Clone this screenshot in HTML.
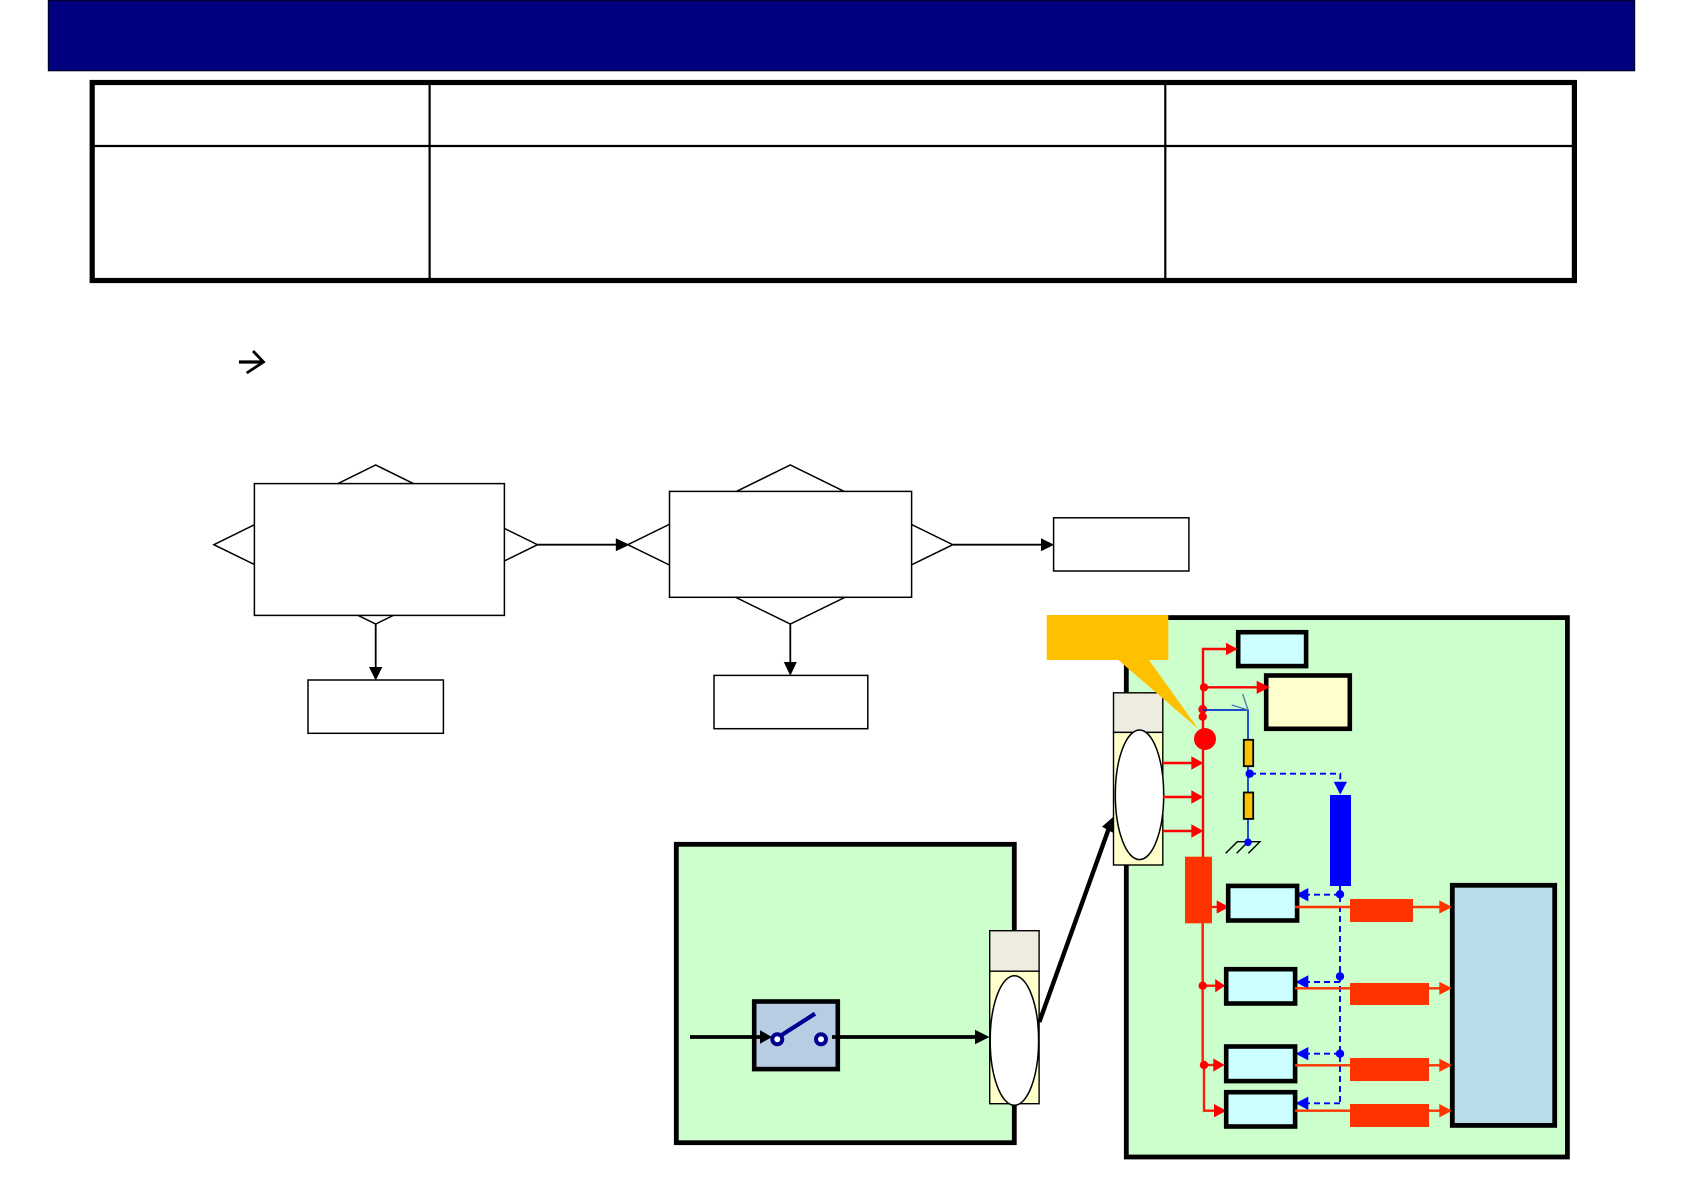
<!DOCTYPE html>
<html>
<head>
<meta charset="utf-8">
<style>
html,body{margin:0;padding:0;background:#fff;width:1684px;height:1191px;overflow:hidden}
svg{display:block}
</style>
</head>
<body>
<svg width="1684" height="1191" viewBox="0 0 1684 1191" xmlns="http://www.w3.org/2000/svg">
<rect width="1684" height="1191" fill="#fff"/>

<!-- banner -->
<rect x="48.5" y="0.6" width="1586" height="70" fill="#000080" stroke="#000030" stroke-width="1.4"/>

<!-- table -->
<rect x="92.2" y="82.5" width="1482.2" height="198" fill="#fff" stroke="#000" stroke-width="5.2"/>
<line x1="92" y1="146" x2="1574" y2="146" stroke="#000" stroke-width="2.2"/>
<line x1="429.6" y1="82" x2="429.6" y2="280" stroke="#000" stroke-width="2.2"/>
<line x1="1165.3" y1="82" x2="1165.3" y2="280" stroke="#000" stroke-width="2.2"/>

<!-- arrow glyph -->
<path d="M239 362H262" stroke="#000" stroke-width="3.2" fill="none"/>
<path d="M253 351L263.5 362L246.7 373" stroke="#000" stroke-width="2.8" fill="none"/>

<!-- flow chart -->
<g fill="#fff" stroke="#000" stroke-width="1.5">
<polygon points="213.9,544.7 375.7,465 537.5,544.7 375.7,624"/>
<rect x="254.4" y="483.6" width="250" height="131.8"/>
<polygon points="627.8,544.7 790.3,465 952.8,544.7 790.3,624"/>
<rect x="669.5" y="491.4" width="242.1" height="105.9"/>
<rect x="1053.6" y="517.8" width="135.3" height="53.2"/>
<rect x="308" y="680" width="135.4" height="53.3"/>
<rect x="714" y="675.4" width="153.8" height="53.3"/>
</g>
<g stroke="#000" stroke-width="1.8" fill="none">
<line x1="537.5" y1="544.7" x2="618" y2="544.7"/>
<line x1="952.8" y1="544.7" x2="1043" y2="544.7"/>
<line x1="375.7" y1="624" x2="375.7" y2="668"/>
<line x1="790.3" y1="624" x2="790.3" y2="663"/>
</g>
<g fill="#000">
<polygon points="615.8,538.2 629.5,544.7 615.8,551.2"/>
<polygon points="1041,538.2 1054,544.7 1041,551.2"/>
<polygon points="369,667 382.4,667 375.7,680.5"/>
<polygon points="783.8,662 796.8,662 790.3,675.8"/>
</g>

<!-- left green panel -->
<rect x="676.3" y="844.3" width="338" height="298.4" fill="#CCFFCC" stroke="#000" stroke-width="4.8"/>
<rect x="754.2" y="1001.5" width="83.6" height="67.6" fill="#B8CCE4" stroke="#000" stroke-width="4.6"/>
<line x1="690" y1="1037" x2="762" y2="1037" stroke="#000" stroke-width="3.8"/>
<polygon points="760,1030.2 772,1037 760,1043.8" fill="#000"/>
<line x1="832" y1="1037" x2="977" y2="1037" stroke="#000" stroke-width="3.8"/>
<polygon points="975,1029.8 989.5,1037 975,1044.2" fill="#000"/>
<circle cx="777.3" cy="1039.3" r="5" fill="#fff" stroke="#000090" stroke-width="4"/>
<circle cx="821" cy="1039.3" r="5" fill="#fff" stroke="#000090" stroke-width="4"/>
<line x1="781.7" y1="1035" x2="815" y2="1013.7" stroke="#000090" stroke-width="4.2"/>

<!-- left connector -->
<rect x="989.7" y="930.7" width="49.4" height="40.5" fill="#EEECE1" stroke="#000" stroke-width="1.4"/>
<rect x="989.7" y="971.2" width="49.4" height="132.5" fill="#FFFFCC" stroke="#000" stroke-width="1.4"/>
<ellipse cx="1014.4" cy="1040.5" rx="24.2" ry="64.8" fill="#fff" stroke="#000" stroke-width="1.5"/>

<!-- right green panel -->
<rect x="1126.3" y="617.6" width="441.1" height="539.4" fill="#CCFFCC" stroke="#000" stroke-width="4.8"/>

<!-- thick link arrow -->
<line x1="1039.3" y1="1022" x2="1109" y2="828" stroke="#000" stroke-width="4.4"/>
<polygon points="1113.4,816.7 1114.4,833.5 1102,826.7" fill="#000"/>

<!-- right connector -->
<rect x="1113.5" y="692.8" width="49.3" height="39.6" fill="#EEECE1" stroke="#000" stroke-width="1.4"/>
<rect x="1113.5" y="732.4" width="49.3" height="132.6" fill="#FFFFCC" stroke="#000" stroke-width="1.4"/>
<ellipse cx="1139.5" cy="794.8" rx="24.2" ry="64.8" fill="#fff" stroke="#000" stroke-width="1.5"/>

<!-- top boxes -->
<rect x="1238.2" y="632.2" width="67.9" height="33.9" fill="#CCFFFF" stroke="#000" stroke-width="4.6"/>
<rect x="1266.2" y="675.5" width="83.6" height="53.3" fill="#FFFFCC" stroke="#000" stroke-width="4.6"/>

<!-- red lines top -->
<g stroke="#FF0000" stroke-width="2.4" fill="none">
<path d="M1203 857V649H1228"/>
<line x1="1204" y1="687.3" x2="1258" y2="687.3"/>
<line x1="1162.7" y1="763" x2="1193" y2="763"/>
<line x1="1163" y1="797" x2="1193" y2="797"/>
<line x1="1162.7" y1="831" x2="1193" y2="831"/>
</g>
<g fill="#FF0000">
<polygon points="1226,642.7 1237.6,649 1226,655.3"/>
<polygon points="1256.7,680.7 1269.6,687.3 1256.7,693.9"/>
<polygon points="1191.3,756.3 1203.4,763 1191.3,769.7"/>
<polygon points="1191.3,790.3 1203.4,797 1191.3,803.7"/>
<polygon points="1191.3,824.3 1203.4,831 1191.3,837.7"/>
<circle cx="1204" cy="687.3" r="4.2"/>
<circle cx="1202.7" cy="709.3" r="4.4"/>
<circle cx="1202.7" cy="716.7" r="4.2"/>
</g>

<!-- callout -->
<polygon points="1046.7,615 1168.3,615 1168.3,660 1149,660 1198.3,729 1118.3,660 1046.7,660" fill="#FFC000"/>
<circle cx="1205" cy="739" r="11" fill="#FF0000"/>

<!-- divider -->
<path d="M1202.7 710H1248V841.7" stroke="#0033CC" stroke-width="1.7" fill="none"/>
<path d="M1231.7 705L1248 710L1242.7 694" stroke="#4A78B0" stroke-width="1.3" fill="none"/>
<rect x="1243.8" y="739.8" width="9.4" height="26.4" fill="#FFC000" stroke="#000" stroke-width="1.8"/>
<rect x="1243.8" y="792.5" width="9.4" height="26.4" fill="#FFC000" stroke="#000" stroke-width="1.8"/>
<path d="M1225.7 853.3L1237.3 841.7H1260L1248.3 853.3M1248 841.7L1236.7 853.3" stroke="#000" stroke-width="1.4" fill="none"/>
<circle cx="1248" cy="842.3" r="3.8" fill="#0000FF"/>
<circle cx="1249.7" cy="773.7" r="4.2" fill="#0000FF"/>
<path d="M1250 773.7H1340.3V783" stroke="#0000FF" stroke-width="1.9" stroke-dasharray="6 4" fill="none"/>
<polygon points="1333.7,781.7 1347,781.7 1340.3,794.6" fill="#0000FF"/>
<rect x="1330" y="795" width="21" height="91" fill="#0000FF"/>

<!-- blue dashed bus -->
<g stroke="#0000FF" stroke-width="1.9" stroke-dasharray="6 4" fill="none">
<line x1="1340" y1="886" x2="1340" y2="1103.3"/>
<line x1="1340" y1="894.7" x2="1306" y2="894.7"/>
<line x1="1340" y1="982" x2="1306" y2="982"/>
<line x1="1340" y1="1053.7" x2="1306" y2="1053.7"/>
<line x1="1340" y1="1103.3" x2="1306" y2="1103.3"/>
</g>
<g fill="#0000FF">
<polygon points="1308.3,888 1295.6,894.7 1308.3,901.4"/>
<polygon points="1308.3,975.3 1295.6,982 1308.3,988.7"/>
<polygon points="1308.3,1047 1295.6,1053.7 1308.3,1060.4"/>
<polygon points="1308.3,1096.6 1295.6,1103.3 1308.3,1110"/>
<circle cx="1340" cy="894.3" r="4.2"/>
<circle cx="1340" cy="976.3" r="4.2"/>
<circle cx="1340" cy="1053.7" r="4.2"/>
</g>

<!-- left bus lower -->
<path d="M1202.7 923V1065H1204V1110.7H1216" stroke="#FF1A00" stroke-width="2.4" fill="none"/>
<line x1="1202.7" y1="985.7" x2="1217" y2="985.7" stroke="#FF1A00" stroke-width="2.4"/>
<line x1="1204" y1="1065" x2="1215" y2="1065" stroke="#FF1A00" stroke-width="2.4"/>
<line x1="1212" y1="907" x2="1218" y2="907" stroke="#FF1A00" stroke-width="2.4"/>
<rect x="1185" y="856.7" width="27" height="66.6" fill="#FF3300"/>
<g fill="#FF0000">
<circle cx="1202.7" cy="985.7" r="4.2"/>
<circle cx="1204" cy="1065" r="4.2"/>
<polygon points="1216.7,900.4 1229,907 1216.7,913.6"/>
<polygon points="1215.2,979 1225,985.7 1215.2,992.4"/>
<polygon points="1213.3,1058.4 1224.6,1065 1213.3,1071.6"/>
<polygon points="1214,1104 1226.3,1110.7 1214,1117.4"/>
</g>

<!-- small boxes -->
<g fill="#CCFFFF" stroke="#000" stroke-width="4.6">
<rect x="1228.2" y="885.9" width="68.9" height="34.6"/>
<rect x="1226.2" y="969.2" width="68.9" height="34.3"/>
<rect x="1226.2" y="1046.5" width="68.9" height="34.6"/>
<rect x="1226.2" y="1092.2" width="68.9" height="34.3"/>
</g>

<!-- tall box -->
<rect x="1452.3" y="885.3" width="102.4" height="240.1" fill="#B7DDE8" stroke="#000" stroke-width="4.8"/>

<!-- orange lines -->
<g stroke="#FF3300" stroke-width="2.4" fill="none">
<line x1="1295" y1="907" x2="1441" y2="907"/>
<line x1="1295" y1="988.3" x2="1441" y2="988.3"/>
<line x1="1295" y1="1065.3" x2="1441" y2="1065.3"/>
<line x1="1295" y1="1110.7" x2="1441" y2="1110.7"/>
</g>
<g fill="#FF3300">
<rect x="1350" y="899" width="63" height="23"/>
<rect x="1350" y="983" width="79" height="22"/>
<rect x="1350" y="1058" width="79" height="23"/>
<rect x="1350" y="1104" width="79" height="23"/>
<polygon points="1439.3,900.4 1452,907 1439.3,913.6"/>
<polygon points="1439.3,981.7 1452,988.3 1439.3,994.9"/>
<polygon points="1439.3,1058.7 1452,1065.3 1439.3,1071.9"/>
<polygon points="1439.3,1104 1452,1110.7 1439.3,1117.4"/>
</g>
</svg>
</body>
</html>
